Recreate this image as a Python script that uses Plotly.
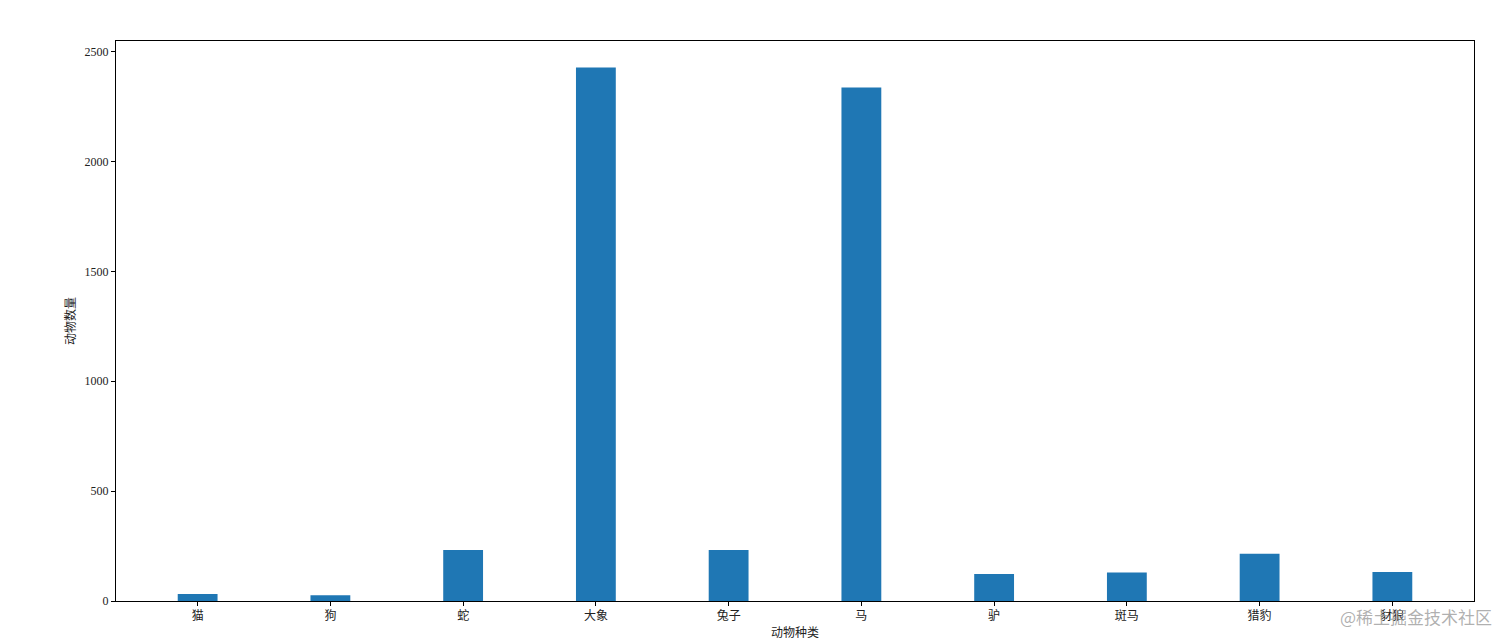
import plotly.graph_objects as go

# 动物种类与数量
animals = ['猫', '狗', '蛇', '大象', '兔子', '马', '驴', '斑马', '猎豹', '豺狼']
counts = [32, 26, 232, 2427, 232, 2336, 123, 130, 215, 132]

y_ticks = [0, 500, 1000, 1500, 2000, 2500]

FONT = 'Liberation Serif, Noto Sans CJK SC, serif'

fig = go.Figure()
fig.add_trace(go.Bar(
    x=list(range(len(animals))), y=counts, width=0.3,
    marker=dict(color='#1f77b4', line=dict(width=0)),
    showlegend=False,
))

axis_common = dict(
    showline=True, linecolor='black', linewidth=1, mirror=True,
    ticks='outside', ticklen=4, tickcolor='black', tickwidth=1,
    showgrid=False, zeroline=False, automargin=False,
    tickfont=dict(family=FONT, size=12, color='#222'),
)

# page body has an 8px margin, so the figure is a bit smaller than the window
fig.update_layout(
    width=1504, height=634,
    paper_bgcolor='white', plot_bgcolor='white',
    margin=dict(l=108, r=38, t=33, b=41),
    font=dict(family=FONT, size=12, color='#222'),
    xaxis=dict(
        **axis_common,
        tickvals=list(range(len(animals))), ticktext=animals,
        range=[-0.615, len(animals) - 1 + 0.615],
        title=dict(text='动物种类', standoff=6,
                   font=dict(family=FONT, size=12, color='#222')),
    ),
    yaxis=dict(
        **axis_common,
        tickvals=y_ticks, range=[0, 2548],
        title=dict(text='动物数量', standoff=6,
                   font=dict(family=FONT, size=12, color='#222')),
    ),
)

# watermark
fig.add_annotation(
    text='@稀土掘金技术社区', xref='paper', yref='paper',
    x=1.0, y=0, xanchor='right', yanchor='top', xshift=20, yshift=-1,
    showarrow=False,
    font=dict(family='Noto Sans CJK SC', size=17, color='rgba(150,150,150,0.75)'),
)

fig.write_html('out.html')
